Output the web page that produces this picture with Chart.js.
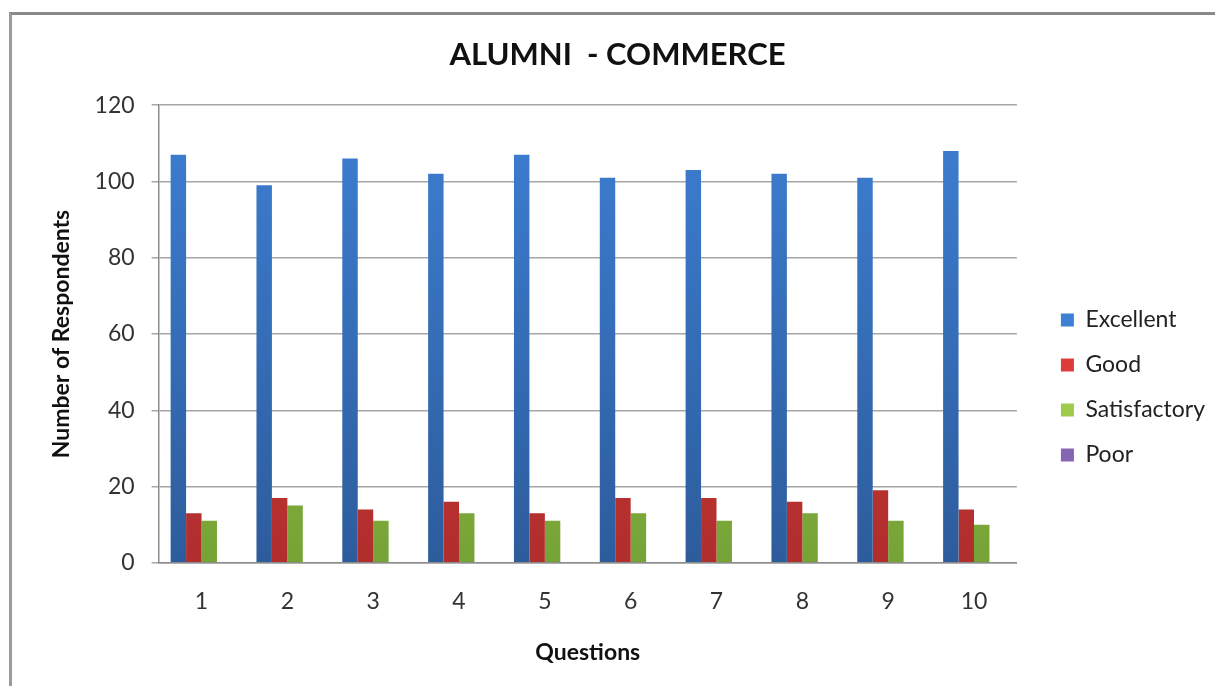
<!DOCTYPE html>
<html>
<head>
<meta charset="utf-8">
<script src="https://cdn.jsdelivr.net/npm/chart.js@4.4.1/dist/chart.umd.min.js"></script>
<style>
  html, body { margin: 0; padding: 0; background: #fff; width: 1215px; height: 686px; overflow: hidden; }
  #frame { position: absolute; left: 9px; top: 12px; width: 1300px; height: 800px;
           border-left: 3px solid #9a9a9a; border-top: 3px solid #8a8a8a; box-sizing: border-box; }
  #wrap { position: absolute; left: 0; top: 0; width: 1215px; height: 686px; }
</style>
</head>
<body>
<div id="frame"></div>
<div id="wrap"><canvas id="c"></canvas></div>
<script>
const chartTitle = 'ALUMNI  - COMMERCE';
const categories = ['1', '2', '3', '4', '5', '6', '7', '8', '9', '10'];
const seriesNames = ['Excellent', 'Good', 'Satisfactory', 'Poor'];
const excellent = [107, 99, 106, 102, 107, 101, 103, 102, 101, 108];
const good = [13, 17, 14, 16, 13, 17, 17, 16, 19, 14];
const satisfactory = [11, 15, 11, 13, 11, 13, 11, 13, 11, 10];
const poor = [0, 0, 0, 0, 0, 0, 0, 0, 0, 0];
const yTicks = [0, 20, 40, 60, 80, 100, 120];

const palette = [
  ['#3d7fd3', '#2d5c9c'],
  ['#dc3d3b', '#b02e2c'],
  ['#9fcb4d', '#76a336'],
  ['#8466b2', '#6a4d96']
];

function grad(i) {
  return (ctx) => {
    const chart = ctx.chart;
    const a = chart.chartArea;
    if (!a) return palette[i][0];
    const g = chart.ctx.createLinearGradient(0, a.top, 0, a.bottom);
    g.addColorStop(0, palette[i][0]);
    g.addColorStop(1, palette[i][1]);
    return g;
  };
}

const seriesValues = [excellent, good, satisfactory, poor];
const datasets = seriesNames.map((name, i) => ({
  label: name,
  data: seriesValues[i],
  backgroundColor: grad(i),
  borderWidth: 0,
  categoryPercentage: 0.72,
  barPercentage: 1.0
}));

new Chart(document.getElementById('c'), {
  type: 'bar',
  data: { labels: categories, datasets },
  options: {
    responsive: true,
    maintainAspectRatio: false,
    animation: false,
    layout: { padding: { left: 20, right: 0, top: 0, bottom: 0 } },
    plugins: {
      title: {
        display: true,
        text: chartTitle,
        color: '#111',
        font: { family: 'Lato', size: 31, weight: 'bold' },
        padding: { top: 36, bottom: 32 }
      },
      legend: {
        position: 'right',
        title: { display: true, text: ' ', font: { family: 'Lato', size: 10 }, padding: { top: 77, bottom: 0 } },
        labels: {
          color: '#222',
          font: { family: 'Lato', size: 23 },
          boxWidth: 13,
          boxHeight: 13,
          padding: 22,
          generateLabels: (chart) => chart.data.datasets.map((ds, i) => ({
            text: ds.label,
            fillStyle: palette[i][0],
            strokeStyle: palette[i][0],
            lineWidth: 0,
            hidden: false,
            datasetIndex: i,
            fontColor: '#222'
          }))
        }
      },
      tooltip: { enabled: false }
    },
    scales: {
      x: {
        grid: { display: false, drawTicks: false },
        border: { display: true, color: '#8c8c8c', width: 1.5 },
        ticks: { color: '#333', font: { family: 'Lato', size: 23 }, padding: 25 },
        title: {
          display: true, text: 'Questions', color: '#111',
          font: { family: 'Lato', size: 23, weight: 'bold' },
          padding: { top: -2, bottom: 20 }
        }
      },
      y: {
        min: 0, max: 120,
        afterBuildTicks: (s) => { s.ticks = yTicks.map(v => ({ value: v })); },
        grid: { color: '#a6a6a6', lineWidth: 1.5, drawTicks: true, tickLength: 7 },
        border: { display: true, color: '#8c8c8c', width: 1.5 },
        ticks: { color: '#333', font: { family: 'Lato', size: 23 }, padding: 17 },
        title: {
          display: true, text: 'Number of Respondents', color: '#111',
          font: { family: 'Lato', size: 23, weight: 'bold' },
          padding: { top: 28, bottom: 2 }
        }
      },
      yR: {
        position: 'right',
        display: true,
        grid: { display: false, drawTicks: false },
        border: { display: false },
        ticks: { display: false },
        afterFit: (s) => { s.width = 22; }
      }
    }
  }
});
</script>
</body>
</html>
